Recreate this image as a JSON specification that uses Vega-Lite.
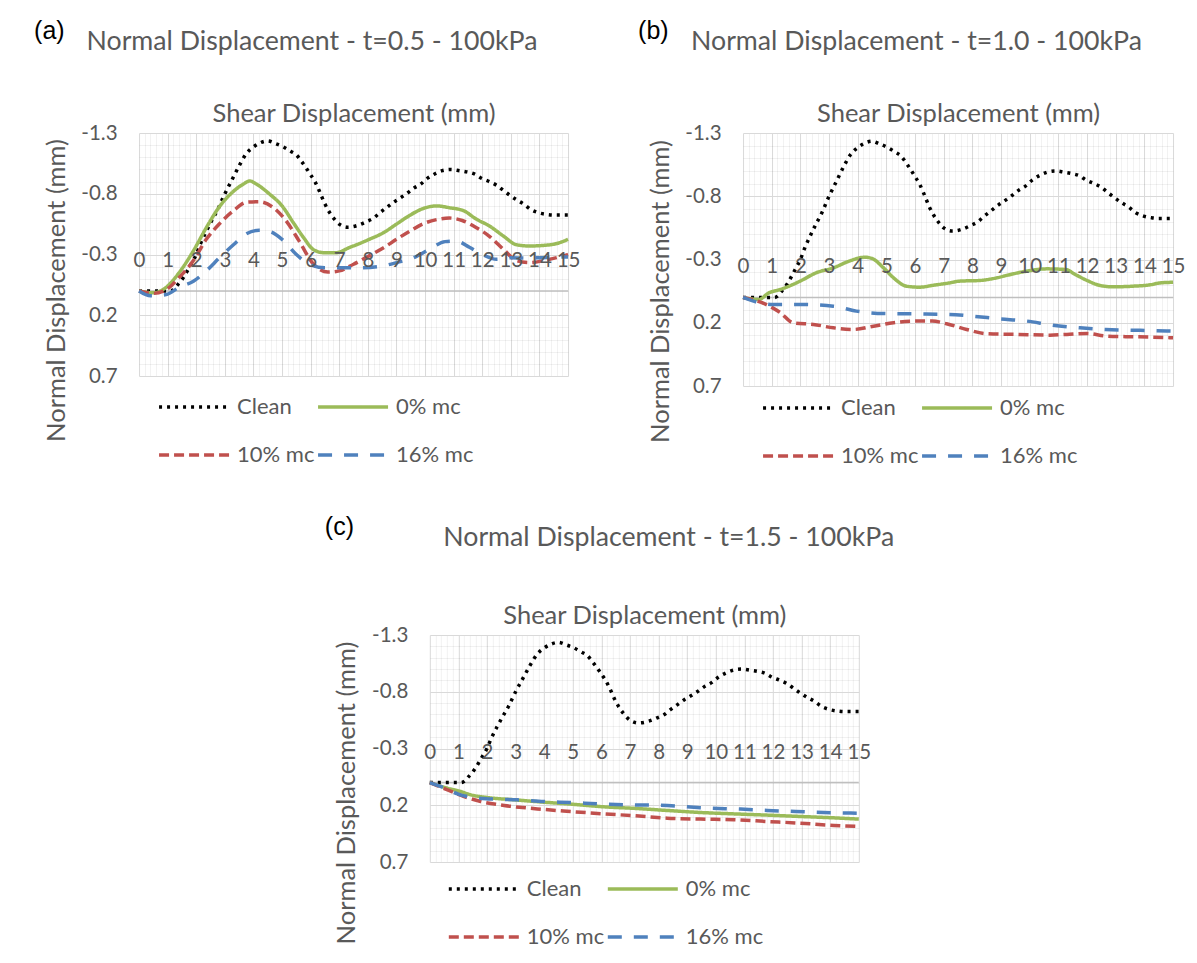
{
  "$schema": "https://vega.github.io/schema/vega-lite/v6.json",
  "background": "white",
  "padding": {"left": 34, "top": 18, "right": 5, "bottom": 0},
  "config": {
    "font": "Lato",
    "view": {"stroke": null},
    "line": {"strokeWidth": 3.5},
    "title": {"font": "Lato", "fontSize": 26.7, "fontWeight": "normal", "color": "#595959", "baseline": "alphabetic"},
    "axis": {"labelFont": "Lato", "titleFont": "Lato", "labelColor": "#595959", "titleColor": "#595959", "titleFontWeight": "normal", "labelFontSize": 20.5, "titleFontSize": 25.5, "labelFlush": false, "labelOverlap": false, "tickSize": 0},
    "legend": {"symbolType": "stroke", "symbolSize": 4900, "symbolStrokeWidth": 3.5, "labelFont": "Lato", "labelFontSize": 22, "labelColor": "#595959", "labelOffset": 6, "rowPadding": 0, "columnPadding": -4, "columns": 2, "direction": "horizontal", "padding": 0, "labelLimit": 0}
  },
  "datasets": {
    "shear": [
      {"panel": "all", "series": "Clean", "shear": 0, "normal": 0},
      {"panel": "all", "series": "Clean", "shear": 0.5, "normal": 0},
      {"panel": "all", "series": "Clean", "shear": 1.1, "normal": 0},
      {"panel": "all", "series": "Clean", "shear": 1.2, "normal": -0.01},
      {"panel": "all", "series": "Clean", "shear": 1.35, "normal": -0.05},
      {"panel": "all", "series": "Clean", "shear": 1.55, "normal": -0.11},
      {"panel": "all", "series": "Clean", "shear": 1.7, "normal": -0.17},
      {"panel": "all", "series": "Clean", "shear": 1.85, "normal": -0.235},
      {"panel": "all", "series": "Clean", "shear": 2.0, "normal": -0.3},
      {"panel": "all", "series": "Clean", "shear": 2.15, "normal": -0.39},
      {"panel": "all", "series": "Clean", "shear": 2.35, "normal": -0.49},
      {"panel": "all", "series": "Clean", "shear": 2.5, "normal": -0.56},
      {"panel": "all", "series": "Clean", "shear": 2.75, "normal": -0.67},
      {"panel": "all", "series": "Clean", "shear": 3.0, "normal": -0.8},
      {"panel": "all", "series": "Clean", "shear": 3.25, "normal": -0.915},
      {"panel": "all", "series": "Clean", "shear": 3.5, "normal": -1.03},
      {"panel": "all", "series": "Clean", "shear": 3.75, "normal": -1.13},
      {"panel": "all", "series": "Clean", "shear": 4.0, "normal": -1.185},
      {"panel": "all", "series": "Clean", "shear": 4.2, "normal": -1.215},
      {"panel": "all", "series": "Clean", "shear": 4.5, "normal": -1.235},
      {"panel": "all", "series": "Clean", "shear": 4.75, "normal": -1.215},
      {"panel": "all", "series": "Clean", "shear": 5.05, "normal": -1.185},
      {"panel": "all", "series": "Clean", "shear": 5.3, "normal": -1.15},
      {"panel": "all", "series": "Clean", "shear": 5.5, "normal": -1.12},
      {"panel": "all", "series": "Clean", "shear": 5.7, "normal": -1.06},
      {"panel": "all", "series": "Clean", "shear": 5.85, "normal": -1.01},
      {"panel": "all", "series": "Clean", "shear": 6.0, "normal": -0.955},
      {"panel": "all", "series": "Clean", "shear": 6.15, "normal": -0.9},
      {"panel": "all", "series": "Clean", "shear": 6.3, "normal": -0.825},
      {"panel": "all", "series": "Clean", "shear": 6.5, "normal": -0.715},
      {"panel": "all", "series": "Clean", "shear": 6.65, "normal": -0.65},
      {"panel": "all", "series": "Clean", "shear": 6.8, "normal": -0.6},
      {"panel": "all", "series": "Clean", "shear": 7.0, "normal": -0.55},
      {"panel": "all", "series": "Clean", "shear": 7.3, "normal": -0.525},
      {"panel": "all", "series": "Clean", "shear": 7.65, "normal": -0.54},
      {"panel": "all", "series": "Clean", "shear": 7.95, "normal": -0.57},
      {"panel": "all", "series": "Clean", "shear": 8.2, "normal": -0.6},
      {"panel": "all", "series": "Clean", "shear": 8.4, "normal": -0.64},
      {"panel": "all", "series": "Clean", "shear": 8.65, "normal": -0.685},
      {"panel": "all", "series": "Clean", "shear": 8.9, "normal": -0.73},
      {"panel": "all", "series": "Clean", "shear": 9.1, "normal": -0.76},
      {"panel": "all", "series": "Clean", "shear": 9.35, "normal": -0.8},
      {"panel": "all", "series": "Clean", "shear": 9.6, "normal": -0.845},
      {"panel": "all", "series": "Clean", "shear": 9.85, "normal": -0.88},
      {"panel": "all", "series": "Clean", "shear": 10.1, "normal": -0.93},
      {"panel": "all", "series": "Clean", "shear": 10.35, "normal": -0.965},
      {"panel": "all", "series": "Clean", "shear": 10.6, "normal": -0.99},
      {"panel": "all", "series": "Clean", "shear": 10.9, "normal": -1.0},
      {"panel": "all", "series": "Clean", "shear": 11.2, "normal": -0.99},
      {"panel": "all", "series": "Clean", "shear": 11.45, "normal": -0.98},
      {"panel": "all", "series": "Clean", "shear": 11.75, "normal": -0.96},
      {"panel": "all", "series": "Clean", "shear": 11.95, "normal": -0.93},
      {"panel": "all", "series": "Clean", "shear": 12.25, "normal": -0.9},
      {"panel": "all", "series": "Clean", "shear": 12.5, "normal": -0.87},
      {"panel": "all", "series": "Clean", "shear": 12.75, "normal": -0.825},
      {"panel": "all", "series": "Clean", "shear": 12.95, "normal": -0.79},
      {"panel": "all", "series": "Clean", "shear": 13.2, "normal": -0.75},
      {"panel": "all", "series": "Clean", "shear": 13.45, "normal": -0.715},
      {"panel": "all", "series": "Clean", "shear": 13.7, "normal": -0.67},
      {"panel": "all", "series": "Clean", "shear": 13.95, "normal": -0.645},
      {"panel": "all", "series": "Clean", "shear": 14.25, "normal": -0.63},
      {"panel": "all", "series": "Clean", "shear": 14.5, "normal": -0.625},
      {"panel": "all", "series": "Clean", "shear": 15, "normal": -0.625},

      {"panel": "a", "series": "0% mc", "shear": 0, "normal": 0},
      {"panel": "a", "series": "0% mc", "shear": 0.5, "normal": 0.015},
      {"panel": "a", "series": "0% mc", "shear": 0.95, "normal": -0.03},
      {"panel": "a", "series": "0% mc", "shear": 1.4, "normal": -0.15},
      {"panel": "a", "series": "0% mc", "shear": 1.9, "normal": -0.33},
      {"panel": "a", "series": "0% mc", "shear": 2.35, "normal": -0.52},
      {"panel": "a", "series": "0% mc", "shear": 2.8, "normal": -0.69},
      {"panel": "a", "series": "0% mc", "shear": 3.3, "normal": -0.82},
      {"panel": "a", "series": "0% mc", "shear": 3.65, "normal": -0.88},
      {"panel": "a", "series": "0% mc", "shear": 3.87, "normal": -0.905},
      {"panel": "a", "series": "0% mc", "shear": 4.1, "normal": -0.88},
      {"panel": "a", "series": "0% mc", "shear": 4.55, "normal": -0.8},
      {"panel": "a", "series": "0% mc", "shear": 5.0, "normal": -0.7},
      {"panel": "a", "series": "0% mc", "shear": 5.4, "normal": -0.56},
      {"panel": "a", "series": "0% mc", "shear": 5.75, "normal": -0.44},
      {"panel": "a", "series": "0% mc", "shear": 6.1, "normal": -0.34},
      {"panel": "a", "series": "0% mc", "shear": 6.45, "normal": -0.315},
      {"panel": "a", "series": "0% mc", "shear": 6.9, "normal": -0.315},
      {"panel": "a", "series": "0% mc", "shear": 7.35, "normal": -0.357},
      {"panel": "a", "series": "0% mc", "shear": 7.6, "normal": -0.38},
      {"panel": "a", "series": "0% mc", "shear": 8.05, "normal": -0.425},
      {"panel": "a", "series": "0% mc", "shear": 8.55, "normal": -0.48},
      {"panel": "a", "series": "0% mc", "shear": 9.0, "normal": -0.55},
      {"panel": "a", "series": "0% mc", "shear": 9.45, "normal": -0.62},
      {"panel": "a", "series": "0% mc", "shear": 9.95, "normal": -0.68},
      {"panel": "a", "series": "0% mc", "shear": 10.4, "normal": -0.7},
      {"panel": "a", "series": "0% mc", "shear": 10.85, "normal": -0.685},
      {"panel": "a", "series": "0% mc", "shear": 11.35, "normal": -0.66},
      {"panel": "a", "series": "0% mc", "shear": 11.8, "normal": -0.59},
      {"panel": "a", "series": "0% mc", "shear": 12.25, "normal": -0.535},
      {"panel": "a", "series": "0% mc", "shear": 12.75, "normal": -0.45},
      {"panel": "a", "series": "0% mc", "shear": 13.2, "normal": -0.38},
      {"panel": "a", "series": "0% mc", "shear": 13.65, "normal": -0.37},
      {"panel": "a", "series": "0% mc", "shear": 14.15, "normal": -0.375},
      {"panel": "a", "series": "0% mc", "shear": 14.6, "normal": -0.39},
      {"panel": "a", "series": "0% mc", "shear": 15, "normal": -0.425},

      {"panel": "a", "series": "10% mc", "shear": 0, "normal": 0},
      {"panel": "a", "series": "10% mc", "shear": 0.5, "normal": 0.02},
      {"panel": "a", "series": "10% mc", "shear": 0.95, "normal": -0.01},
      {"panel": "a", "series": "10% mc", "shear": 1.4, "normal": -0.11},
      {"panel": "a", "series": "10% mc", "shear": 1.9, "normal": -0.25},
      {"panel": "a", "series": "10% mc", "shear": 2.35, "normal": -0.425},
      {"panel": "a", "series": "10% mc", "shear": 2.8, "normal": -0.55},
      {"panel": "a", "series": "10% mc", "shear": 3.3, "normal": -0.66},
      {"panel": "a", "series": "10% mc", "shear": 3.75, "normal": -0.73},
      {"panel": "a", "series": "10% mc", "shear": 4.2, "normal": -0.735},
      {"panel": "a", "series": "10% mc", "shear": 4.7, "normal": -0.685},
      {"panel": "a", "series": "10% mc", "shear": 5.15, "normal": -0.575},
      {"panel": "a", "series": "10% mc", "shear": 5.6, "normal": -0.41},
      {"panel": "a", "series": "10% mc", "shear": 6.1, "normal": -0.22},
      {"panel": "a", "series": "10% mc", "shear": 6.6, "normal": -0.155},
      {"panel": "a", "series": "10% mc", "shear": 7.0, "normal": -0.165},
      {"panel": "a", "series": "10% mc", "shear": 7.5, "normal": -0.22},
      {"panel": "a", "series": "10% mc", "shear": 8.05, "normal": -0.29},
      {"panel": "a", "series": "10% mc", "shear": 8.55, "normal": -0.355},
      {"panel": "a", "series": "10% mc", "shear": 9.0, "normal": -0.425},
      {"panel": "a", "series": "10% mc", "shear": 9.45, "normal": -0.49},
      {"panel": "a", "series": "10% mc", "shear": 9.95, "normal": -0.555},
      {"panel": "a", "series": "10% mc", "shear": 10.4, "normal": -0.587},
      {"panel": "a", "series": "10% mc", "shear": 10.85, "normal": -0.6},
      {"panel": "a", "series": "10% mc", "shear": 11.3, "normal": -0.58},
      {"panel": "a", "series": "10% mc", "shear": 11.8, "normal": -0.52},
      {"panel": "a", "series": "10% mc", "shear": 12.25, "normal": -0.45},
      {"panel": "a", "series": "10% mc", "shear": 12.75, "normal": -0.34},
      {"panel": "a", "series": "10% mc", "shear": 13.2, "normal": -0.25},
      {"panel": "a", "series": "10% mc", "shear": 13.65, "normal": -0.233},
      {"panel": "a", "series": "10% mc", "shear": 14.15, "normal": -0.25},
      {"panel": "a", "series": "10% mc", "shear": 14.6, "normal": -0.274},
      {"panel": "a", "series": "10% mc", "shear": 15, "normal": -0.3},

      {"panel": "a", "series": "16% mc", "shear": 0, "normal": 0},
      {"panel": "a", "series": "16% mc", "shear": 0.4, "normal": 0.04},
      {"panel": "a", "series": "16% mc", "shear": 0.95, "normal": 0.03},
      {"panel": "a", "series": "16% mc", "shear": 1.4, "normal": -0.03},
      {"panel": "a", "series": "16% mc", "shear": 1.9, "normal": -0.08},
      {"panel": "a", "series": "16% mc", "shear": 2.35, "normal": -0.165},
      {"panel": "a", "series": "16% mc", "shear": 2.8, "normal": -0.27},
      {"panel": "a", "series": "16% mc", "shear": 3.3, "normal": -0.38},
      {"panel": "a", "series": "16% mc", "shear": 3.75, "normal": -0.47},
      {"panel": "a", "series": "16% mc", "shear": 4.2, "normal": -0.5},
      {"panel": "a", "series": "16% mc", "shear": 4.55, "normal": -0.49},
      {"panel": "a", "series": "16% mc", "shear": 5.0, "normal": -0.425},
      {"panel": "a", "series": "16% mc", "shear": 5.5, "normal": -0.3},
      {"panel": "a", "series": "16% mc", "shear": 5.95, "normal": -0.22},
      {"panel": "a", "series": "16% mc", "shear": 6.5, "normal": -0.19},
      {"panel": "a", "series": "16% mc", "shear": 7.0, "normal": -0.19},
      {"panel": "a", "series": "16% mc", "shear": 7.8, "normal": -0.19},
      {"panel": "a", "series": "16% mc", "shear": 8.5, "normal": -0.205},
      {"panel": "a", "series": "16% mc", "shear": 9.0, "normal": -0.233},
      {"panel": "a", "series": "16% mc", "shear": 9.6, "normal": -0.274},
      {"panel": "a", "series": "16% mc", "shear": 10.15, "normal": -0.343},
      {"panel": "a", "series": "16% mc", "shear": 10.7, "normal": -0.406},
      {"panel": "a", "series": "16% mc", "shear": 11.1, "normal": -0.41},
      {"panel": "a", "series": "16% mc", "shear": 11.55, "normal": -0.36},
      {"panel": "a", "series": "16% mc", "shear": 12.0, "normal": -0.3},
      {"panel": "a", "series": "16% mc", "shear": 12.5, "normal": -0.26},
      {"panel": "a", "series": "16% mc", "shear": 13.0, "normal": -0.274},
      {"panel": "a", "series": "16% mc", "shear": 13.5, "normal": -0.27},
      {"panel": "a", "series": "16% mc", "shear": 14.1, "normal": -0.274},
      {"panel": "a", "series": "16% mc", "shear": 15, "normal": -0.28},

      {"panel": "b", "series": "0% mc", "shear": 0, "normal": 0},
      {"panel": "b", "series": "0% mc", "shear": 0.55, "normal": 0.016},
      {"panel": "b", "series": "0% mc", "shear": 0.9, "normal": -0.036},
      {"panel": "b", "series": "0% mc", "shear": 1.3, "normal": -0.063},
      {"panel": "b", "series": "0% mc", "shear": 2.0, "normal": -0.13},
      {"panel": "b", "series": "0% mc", "shear": 2.55, "normal": -0.195},
      {"panel": "b", "series": "0% mc", "shear": 3.15, "normal": -0.234},
      {"panel": "b", "series": "0% mc", "shear": 3.7, "normal": -0.287},
      {"panel": "b", "series": "0% mc", "shear": 4.25, "normal": -0.318},
      {"panel": "b", "series": "0% mc", "shear": 4.5, "normal": -0.308},
      {"panel": "b", "series": "0% mc", "shear": 4.9, "normal": -0.234},
      {"panel": "b", "series": "0% mc", "shear": 5.25, "normal": -0.155},
      {"panel": "b", "series": "0% mc", "shear": 5.7, "normal": -0.089},
      {"panel": "b", "series": "0% mc", "shear": 6.15, "normal": -0.081},
      {"panel": "b", "series": "0% mc", "shear": 6.65, "normal": -0.097},
      {"panel": "b", "series": "0% mc", "shear": 7.2, "normal": -0.115},
      {"panel": "b", "series": "0% mc", "shear": 7.55, "normal": -0.129},
      {"panel": "b", "series": "0% mc", "shear": 8.25, "normal": -0.134},
      {"panel": "b", "series": "0% mc", "shear": 8.85, "normal": -0.155},
      {"panel": "b", "series": "0% mc", "shear": 9.3, "normal": -0.18},
      {"panel": "b", "series": "0% mc", "shear": 9.9, "normal": -0.208},
      {"panel": "b", "series": "0% mc", "shear": 10.6, "normal": -0.226},
      {"panel": "b", "series": "0% mc", "shear": 11.25, "normal": -0.221},
      {"panel": "b", "series": "0% mc", "shear": 11.6, "normal": -0.18},
      {"panel": "b", "series": "0% mc", "shear": 12.0, "normal": -0.134},
      {"panel": "b", "series": "0% mc", "shear": 12.45, "normal": -0.095},
      {"panel": "b", "series": "0% mc", "shear": 12.9, "normal": -0.084},
      {"panel": "b", "series": "0% mc", "shear": 13.6, "normal": -0.089},
      {"panel": "b", "series": "0% mc", "shear": 14.2, "normal": -0.1},
      {"panel": "b", "series": "0% mc", "shear": 14.55, "normal": -0.115},
      {"panel": "b", "series": "0% mc", "shear": 15, "normal": -0.12},

      {"panel": "b", "series": "10% mc", "shear": 0, "normal": 0},
      {"panel": "b", "series": "10% mc", "shear": 0.8, "normal": 0.055},
      {"panel": "b", "series": "10% mc", "shear": 1.3, "normal": 0.12},
      {"panel": "b", "series": "10% mc", "shear": 1.75, "normal": 0.2},
      {"panel": "b", "series": "10% mc", "shear": 2.45, "normal": 0.213},
      {"panel": "b", "series": "10% mc", "shear": 3.15, "normal": 0.24},
      {"panel": "b", "series": "10% mc", "shear": 3.85, "normal": 0.253},
      {"panel": "b", "series": "10% mc", "shear": 4.55, "normal": 0.227},
      {"panel": "b", "series": "10% mc", "shear": 5.25, "normal": 0.2},
      {"panel": "b", "series": "10% mc", "shear": 5.95, "normal": 0.187},
      {"panel": "b", "series": "10% mc", "shear": 6.6, "normal": 0.187},
      {"panel": "b", "series": "10% mc", "shear": 7.1, "normal": 0.208},
      {"panel": "b", "series": "10% mc", "shear": 7.8, "normal": 0.253},
      {"panel": "b", "series": "10% mc", "shear": 8.5, "normal": 0.287},
      {"panel": "b", "series": "10% mc", "shear": 9.55, "normal": 0.292},
      {"panel": "b", "series": "10% mc", "shear": 10.7, "normal": 0.298},
      {"panel": "b", "series": "10% mc", "shear": 11.3, "normal": 0.292},
      {"panel": "b", "series": "10% mc", "shear": 12.0, "normal": 0.284},
      {"panel": "b", "series": "10% mc", "shear": 12.65, "normal": 0.305},
      {"panel": "b", "series": "10% mc", "shear": 13.35, "normal": 0.31},
      {"panel": "b", "series": "10% mc", "shear": 14.2, "normal": 0.313},
      {"panel": "b", "series": "10% mc", "shear": 15, "normal": 0.319},

      {"panel": "b", "series": "16% mc", "shear": 0, "normal": 0},
      {"panel": "b", "series": "16% mc", "shear": 0.45, "normal": 0.035},
      {"panel": "b", "series": "16% mc", "shear": 1.05, "normal": 0.055},
      {"panel": "b", "series": "16% mc", "shear": 2.0, "normal": 0.055},
      {"panel": "b", "series": "16% mc", "shear": 3.15, "normal": 0.069},
      {"panel": "b", "series": "16% mc", "shear": 3.95, "normal": 0.108},
      {"panel": "b", "series": "16% mc", "shear": 4.9, "normal": 0.127},
      {"panel": "b", "series": "16% mc", "shear": 6.05, "normal": 0.13},
      {"panel": "b", "series": "16% mc", "shear": 7.2, "normal": 0.134},
      {"panel": "b", "series": "16% mc", "shear": 8.0, "normal": 0.148},
      {"panel": "b", "series": "16% mc", "shear": 8.95, "normal": 0.169},
      {"panel": "b", "series": "16% mc", "shear": 9.9, "normal": 0.187},
      {"panel": "b", "series": "16% mc", "shear": 10.8, "normal": 0.219},
      {"panel": "b", "series": "16% mc", "shear": 11.75, "normal": 0.24},
      {"panel": "b", "series": "16% mc", "shear": 12.65, "normal": 0.253},
      {"panel": "b", "series": "16% mc", "shear": 13.85, "normal": 0.26},
      {"panel": "b", "series": "16% mc", "shear": 15, "normal": 0.266},

      {"panel": "c", "series": "0% mc", "shear": 0, "normal": 0},
      {"panel": "c", "series": "0% mc", "shear": 0.62, "normal": 0.05},
      {"panel": "c", "series": "0% mc", "shear": 1.08, "normal": 0.079},
      {"panel": "c", "series": "0% mc", "shear": 1.43, "normal": 0.108},
      {"panel": "c", "series": "0% mc", "shear": 2.01, "normal": 0.132},
      {"panel": "c", "series": "0% mc", "shear": 2.95, "normal": 0.152},
      {"panel": "c", "series": "0% mc", "shear": 3.99, "normal": 0.173},
      {"panel": "c", "series": "0% mc", "shear": 4.92, "normal": 0.19},
      {"panel": "c", "series": "0% mc", "shear": 6.09, "normal": 0.214},
      {"panel": "c", "series": "0% mc", "shear": 7.2, "normal": 0.228},
      {"panel": "c", "series": "0% mc", "shear": 8.3, "normal": 0.246},
      {"panel": "c", "series": "0% mc", "shear": 9.47, "normal": 0.264},
      {"panel": "c", "series": "0% mc", "shear": 10.63, "normal": 0.276},
      {"panel": "c", "series": "0% mc", "shear": 11.8, "normal": 0.287},
      {"panel": "c", "series": "0% mc", "shear": 12.96, "normal": 0.299},
      {"panel": "c", "series": "0% mc", "shear": 14.13, "normal": 0.311},
      {"panel": "c", "series": "0% mc", "shear": 15, "normal": 0.322},

      {"panel": "c", "series": "10% mc", "shear": 0, "normal": 0},
      {"panel": "c", "series": "10% mc", "shear": 0.62, "normal": 0.065},
      {"panel": "c", "series": "10% mc", "shear": 1.2, "normal": 0.123},
      {"panel": "c", "series": "10% mc", "shear": 1.78, "normal": 0.167},
      {"panel": "c", "series": "10% mc", "shear": 2.6, "normal": 0.202},
      {"panel": "c", "series": "10% mc", "shear": 3.76, "normal": 0.232},
      {"panel": "c", "series": "10% mc", "shear": 4.92, "normal": 0.255},
      {"panel": "c", "series": "10% mc", "shear": 6.09, "normal": 0.276},
      {"panel": "c", "series": "10% mc", "shear": 7.2, "normal": 0.293},
      {"panel": "c", "series": "10% mc", "shear": 8.3, "normal": 0.314},
      {"panel": "c", "series": "10% mc", "shear": 9.47, "normal": 0.322},
      {"panel": "c", "series": "10% mc", "shear": 10.63, "normal": 0.328},
      {"panel": "c", "series": "10% mc", "shear": 11.8, "normal": 0.343},
      {"panel": "c", "series": "10% mc", "shear": 12.96, "normal": 0.358},
      {"panel": "c", "series": "10% mc", "shear": 14.13, "normal": 0.378},
      {"panel": "c", "series": "10% mc", "shear": 15, "normal": 0.387},

      {"panel": "c", "series": "16% mc", "shear": 0, "normal": 0},
      {"panel": "c", "series": "16% mc", "shear": 0.62, "normal": 0.059},
      {"panel": "c", "series": "16% mc", "shear": 0.97, "normal": 0.1},
      {"panel": "c", "series": "16% mc", "shear": 1.43, "normal": 0.129},
      {"panel": "c", "series": "16% mc", "shear": 2.13, "normal": 0.144},
      {"panel": "c", "series": "16% mc", "shear": 3.06, "normal": 0.152},
      {"panel": "c", "series": "16% mc", "shear": 3.99, "normal": 0.167},
      {"panel": "c", "series": "16% mc", "shear": 4.92, "normal": 0.176},
      {"panel": "c", "series": "16% mc", "shear": 5.97, "normal": 0.188},
      {"panel": "c", "series": "16% mc", "shear": 7.02, "normal": 0.197},
      {"panel": "c", "series": "16% mc", "shear": 7.95, "normal": 0.2},
      {"panel": "c", "series": "16% mc", "shear": 9.82, "normal": 0.226},
      {"panel": "c", "series": "16% mc", "shear": 10.87, "normal": 0.234},
      {"panel": "c", "series": "16% mc", "shear": 11.8, "normal": 0.246},
      {"panel": "c", "series": "16% mc", "shear": 12.79, "normal": 0.255},
      {"panel": "c", "series": "16% mc", "shear": 13.78, "normal": 0.264},
      {"panel": "c", "series": "16% mc", "shear": 15, "normal": 0.27}
    ]
  },
  "spacing": 47,
  "center": true,
  "resolve": {"scale": {"color": "independent", "strokeDash": "independent"}, "legend": {"color": "independent", "strokeDash": "independent"}},
  "vconcat": [
    {
      "spacing": 57,
      "resolve": {"scale": {"color": "independent", "strokeDash": "independent"}, "legend": {"color": "independent", "strokeDash": "independent"}},
      "hconcat": [
        {
          "title": {"text": "(a)", "anchor": "start", "font": "Liberation Sans", "fontSize": 25, "color": "#000000", "offset": -14.4, "dx": -10},
          "vconcat": [
            {
              "title": {"text": "Normal Displacement - t=0.5 - 100kPa", "anchor": "middle", "frame": "bounds", "offset": 45.4},
              "width": 429,
              "height": 243,
              "data": {"name": "shear"},
              "transform": [{"filter": "datum.panel === 'a' || datum.panel === 'all'"}],
              "resolve": {"axis": {"x": "independent", "y": "independent"}},
              "layer": [
                {
                  "mark": {"type": "rule", "color": "#bfbfbf", "strokeWidth": 1.5},
                  "encoding": {
                    "x": {"aggregate": "min", "field": "shear", "type": "quantitative",
                      "axis": {"orient": "top", "values": [0,1,2,3,4,5,6,7,8,9,10,11,12,13,14,15], "grid": false, "ticks": false, "domain": false, "offset": -157.95, "labelPadding": 24.5, "labelBaseline": "alphabetic", "labelOverlap": false, "labelFlush": false, "zindex": 1, "title": null}},
                    "x2": {"aggregate": "max", "field": "shear"},
                    "y": {"datum": 0, "type": "quantitative",
                      "axis": {"orient": "left", "values": [-1.3, -0.8, -0.3, 0.2, 0.7], "labelExpr": "datum.value + ''", "grid": false, "ticks": false, "domain": false, "labelPadding": 22, "labelOverlap": false, "labelFlush": false, "title": null}}
                  }
                },
                {
                  "mark": {"type": "line", "interpolate": "monotone"},
                  "encoding": {
                    "x": {"field": "shear", "type": "quantitative", "scale": {"domain": [0, 15], "nice": false, "zero": false},
                      "axis": {"orient": "top", "values": [0,0.2,0.4,0.6,0.8,1,1.2,1.4,1.6,1.8,2,2.2,2.4,2.6,2.8,3,3.2,3.4,3.6,3.8,4,4.2,4.4,4.6,4.8,5,5.2,5.4,5.6,5.8,6,6.2,6.4,6.6,6.8,7,7.2,7.4,7.6,7.8,8,8.2,8.4,8.6,8.8,9,9.2,9.4,9.6,9.8,10,10.2,10.4,10.6,10.8,11,11.2,11.4,11.6,11.8,12,12.2,12.4,12.6,12.8,13,13.2,13.4,13.6,13.8,14,14.2,14.4,14.6,14.8,15], "grid": true, "gridColor": {"condition": {"test": "abs(datum.value - round(datum.value)) < 0.01", "value": "#d9d9d9"}, "value": "rgba(0,0,0,0.055)"}, "labels": false, "ticks": false, "domain": false, "title": "Shear Displacement (mm)", "titlePadding": 11.5, "titleBaseline": "alphabetic"}},
                    "y": {"field": "normal", "type": "quantitative", "scale": {"domain": [-1.3, 0.7], "reverse": true, "nice": false, "zero": false},
                      "axis": {"orient": "left", "values": [-1.3,-1.2,-1.1,-1,-0.9,-0.8,-0.7,-0.6,-0.5,-0.4,-0.3,-0.2,-0.1,0,0.1,0.2,0.3,0.4,0.5,0.6,0.7], "grid": true, "gridColor": {"condition": {"test": "abs((datum.value + 1.3) * 2 - round((datum.value + 1.3) * 2)) < 0.01", "value": "#d9d9d9"}, "value": "rgba(0,0,0,0.055)"}, "labels": false, "ticks": false, "domain": false, "title": "Normal Displacement (mm)", "titleX": -83, "titleY": 157, "titleBaseline": "middle"}},
                    "color": {"field": "series", "type": "nominal", "scale": {"domain": ["Clean", "0% mc", "10% mc", "16% mc"], "range": ["#000000", "#9bbb59", "#c0504d", "#4f81bd"]},
                      "legend": {"title": null, "orient": "none", "legendX": 18, "legendY": 237}},
                    "strokeDash": {"field": "series", "type": "nominal", "scale": {"domain": ["Clean", "0% mc", "10% mc", "16% mc"], "range": [[3, 5], [1, 0], [10, 5], [14, 12]]},
                      "legend": {"title": null, "orient": "none", "legendX": 18, "legendY": 237}}
                  }
                }
              ]
            }
          ]
        },
        {
          "title": {"text": "(b)", "anchor": "start", "font": "Liberation Sans", "fontSize": 25, "color": "#000000", "offset": -14.4, "dx": -10},
          "vconcat": [
            {
              "title": {"text": "Normal Displacement - t=1.0 - 100kPa", "anchor": "middle", "frame": "bounds", "offset": 45.4},
              "width": 430,
              "height": 253,
              "data": {"name": "shear"},
              "transform": [{"filter": "datum.panel === 'b' || datum.panel === 'all'"}],
              "resolve": {"axis": {"x": "independent", "y": "independent"}},
              "layer": [
                {
                  "mark": {"type": "rule", "color": "#bfbfbf", "strokeWidth": 1.5},
                  "encoding": {
                    "x": {"aggregate": "min", "field": "shear", "type": "quantitative",
                      "axis": {"orient": "top", "values": [0,1,2,3,4,5,6,7,8,9,10,11,12,13,14,15], "grid": false, "ticks": false, "domain": false, "offset": -164.45, "labelPadding": 24.5, "labelBaseline": "alphabetic", "labelOverlap": false, "labelFlush": false, "zindex": 1, "title": null}},
                    "x2": {"aggregate": "max", "field": "shear"},
                    "y": {"datum": 0, "type": "quantitative",
                      "axis": {"orient": "left", "values": [-1.3, -0.8, -0.3, 0.2, 0.7], "labelExpr": "datum.value + ''", "grid": false, "ticks": false, "domain": false, "labelPadding": 22, "labelOverlap": false, "labelFlush": false, "title": null}}
                  }
                },
                {
                  "mark": {"type": "line", "interpolate": "monotone"},
                  "encoding": {
                    "x": {"field": "shear", "type": "quantitative", "scale": {"domain": [0, 15], "nice": false, "zero": false},
                      "axis": {"orient": "top", "values": [0,0.2,0.4,0.6,0.8,1,1.2,1.4,1.6,1.8,2,2.2,2.4,2.6,2.8,3,3.2,3.4,3.6,3.8,4,4.2,4.4,4.6,4.8,5,5.2,5.4,5.6,5.8,6,6.2,6.4,6.6,6.8,7,7.2,7.4,7.6,7.8,8,8.2,8.4,8.6,8.8,9,9.2,9.4,9.6,9.8,10,10.2,10.4,10.6,10.8,11,11.2,11.4,11.6,11.8,12,12.2,12.4,12.6,12.8,13,13.2,13.4,13.6,13.8,14,14.2,14.4,14.6,14.8,15], "grid": true, "gridColor": {"condition": {"test": "abs(datum.value - round(datum.value)) < 0.01", "value": "#d9d9d9"}, "value": "rgba(0,0,0,0.055)"}, "labels": false, "ticks": false, "domain": false, "title": "Shear Displacement (mm)", "titlePadding": 11.5, "titleBaseline": "alphabetic"}},
                    "y": {"field": "normal", "type": "quantitative", "scale": {"domain": [-1.3, 0.7], "reverse": true, "nice": false, "zero": false},
                      "axis": {"orient": "left", "values": [-1.3,-1.2,-1.1,-1,-0.9,-0.8,-0.7,-0.6,-0.5,-0.4,-0.3,-0.2,-0.1,0,0.1,0.2,0.3,0.4,0.5,0.6,0.7], "grid": true, "gridColor": {"condition": {"test": "abs((datum.value + 1.3) * 2 - round((datum.value + 1.3) * 2)) < 0.01", "value": "#d9d9d9"}, "value": "rgba(0,0,0,0.055)"}, "labels": false, "ticks": false, "domain": false, "title": "Normal Displacement (mm)", "titleX": -83, "titleY": 158, "titleBaseline": "middle"}},
                    "color": {"field": "series", "type": "nominal", "scale": {"domain": ["Clean", "0% mc", "10% mc", "16% mc"], "range": ["#000000", "#9bbb59", "#c0504d", "#4f81bd"]},
                      "legend": {"title": null, "orient": "none", "legendX": 18, "legendY": 238}},
                    "strokeDash": {"field": "series", "type": "nominal", "scale": {"domain": ["Clean", "0% mc", "10% mc", "16% mc"], "range": [[3, 5], [1, 0], [10, 5], [14, 12]]},
                      "legend": {"title": null, "orient": "none", "legendX": 18, "legendY": 238}}
                  }
                }
              ]
            }
          ]
        }
      ]
    },
    {
      "title": {"text": "(c)", "anchor": "start", "font": "Liberation Sans", "fontSize": 25, "color": "#000000", "offset": -14.4, "dx": -10},
      "vconcat": [
        {
          "title": {"text": "Normal Displacement - t=1.5 - 100kPa", "anchor": "middle", "frame": "bounds", "offset": 51.4, "dx": 66},
          "width": 429,
          "height": 227,
          "data": {"name": "shear"},
          "transform": [{"filter": "datum.panel === 'c' || datum.panel === 'all'"}],
          "resolve": {"axis": {"x": "independent", "y": "independent"}},
          "layer": [
            {
              "mark": {"type": "rule", "color": "#bfbfbf", "strokeWidth": 1.5},
              "encoding": {
                "x": {"aggregate": "min", "field": "shear", "type": "quantitative",
                  "axis": {"orient": "top", "values": [0,1,2,3,4,5,6,7,8,9,10,11,12,13,14,15], "grid": false, "ticks": false, "domain": false, "offset": -147.55, "labelPadding": 24.5, "labelBaseline": "alphabetic", "labelOverlap": false, "labelFlush": false, "zindex": 1, "title": null}},
                "x2": {"aggregate": "max", "field": "shear"},
                "y": {"datum": 0, "type": "quantitative",
                  "axis": {"orient": "left", "values": [-1.3, -0.8, -0.3, 0.2, 0.7], "labelExpr": "datum.value + ''", "grid": false, "ticks": false, "domain": false, "labelPadding": 22, "labelOverlap": false, "labelFlush": false, "title": null}}
              }
            },
            {
              "mark": {"type": "line", "interpolate": "monotone"},
              "encoding": {
                "x": {"field": "shear", "type": "quantitative", "scale": {"domain": [0, 15], "nice": false, "zero": false},
                  "axis": {"orient": "top", "values": [0,0.2,0.4,0.6,0.8,1,1.2,1.4,1.6,1.8,2,2.2,2.4,2.6,2.8,3,3.2,3.4,3.6,3.8,4,4.2,4.4,4.6,4.8,5,5.2,5.4,5.6,5.8,6,6.2,6.4,6.6,6.8,7,7.2,7.4,7.6,7.8,8,8.2,8.4,8.6,8.8,9,9.2,9.4,9.6,9.8,10,10.2,10.4,10.6,10.8,11,11.2,11.4,11.6,11.8,12,12.2,12.4,12.6,12.8,13,13.2,13.4,13.6,13.8,14,14.2,14.4,14.6,14.8,15], "grid": true, "gridColor": {"condition": {"test": "abs(datum.value - round(datum.value)) < 0.01", "value": "#d9d9d9"}, "value": "rgba(0,0,0,0.055)"}, "labels": false, "ticks": false, "domain": false, "title": "Shear Displacement (mm)", "titlePadding": 11.5, "titleBaseline": "alphabetic"}},
                "y": {"field": "normal", "type": "quantitative", "scale": {"domain": [-1.3, 0.7], "reverse": true, "nice": false, "zero": false},
                  "axis": {"orient": "left", "values": [-1.3,-1.2,-1.1,-1,-0.9,-0.8,-0.7,-0.6,-0.5,-0.4,-0.3,-0.2,-0.1,0,0.1,0.2,0.3,0.4,0.5,0.6,0.7], "grid": true, "gridColor": {"condition": {"test": "abs((datum.value + 1.3) * 2 - round((datum.value + 1.3) * 2)) < 0.01", "value": "#d9d9d9"}, "value": "rgba(0,0,0,0.055)"}, "labels": false, "ticks": false, "domain": false, "title": "Normal Displacement (mm)", "titleX": -83, "titleY": 157.5, "titleBaseline": "middle"}},
                "color": {"field": "series", "type": "nominal", "scale": {"domain": ["Clean", "0% mc", "10% mc", "16% mc"], "range": ["#000000", "#9bbb59", "#c0504d", "#4f81bd"]},
                  "legend": {"title": null, "orient": "none", "legendX": 17, "legendY": 217}},
                "strokeDash": {"field": "series", "type": "nominal", "scale": {"domain": ["Clean", "0% mc", "10% mc", "16% mc"], "range": [[3, 5], [1, 0], [10, 5], [14, 12]]},
                  "legend": {"title": null, "orient": "none", "legendX": 17, "legendY": 217}}
              }
            }
          ]
        }
      ]
    }
  ]
}
